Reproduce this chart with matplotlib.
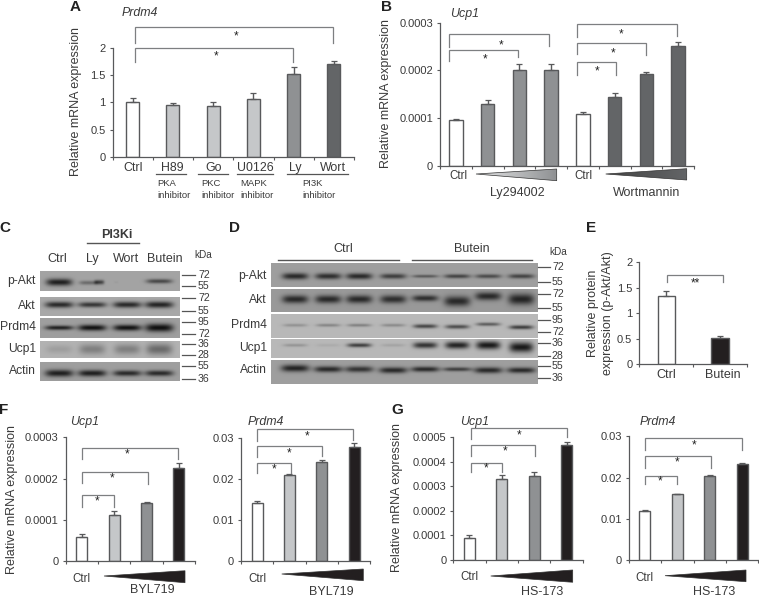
import numpy as np
import matplotlib
matplotlib.use('Agg')
import matplotlib.pyplot as plt
from matplotlib.patches import Polygon

plt.rcParams['font.family'] = ['Liberation Sans', 'DejaVu Sans']

W, H = 759, 597
TXT = '#3a3a3a'
EDGE = '#58595b'
WHITE, LIGHT, MID, DARK, BLACK = '#ffffff', '#c5c7c9', '#8f9193', '#636567', '#231f20'

# bar values
a_vals = [1.0, 0.96, 0.93, 1.07, 1.53, 1.71]
a_errs = [0.08, 0.03, 0.07, 0.11, 0.12, 0.05]
b_vals = [0.000096, 0.000129, 0.0002, 0.0002, 0.000108, 0.000145, 0.000193, 0.000252]
b_errs = [0.000002, 0.000008, 0.000014, 0.000014, 0.000004, 0.000008, 0.000003, 0.000008]
e_vals = [1.34, 0.52]
e_errs = [0.10, 0.04]
f1_vals = [0.00006, 0.000113, 0.000142, 0.000226]
f1_errs = [0.000005, 0.000008, 0.000002, 0.000011]
f2_vals = [0.0142, 0.021, 0.0241, 0.0277]
f2_errs = [0.0005, 0.0002, 0.0005, 0.0009]
g1_vals = [0.000088, 0.00033, 0.00034, 0.000467]
g1_errs = [0.000015, 0.000016, 0.000018, 0.000013]
g2_vals = [0.012, 0.016, 0.0203, 0.0234]
g2_errs = [0.00005, 0.00005, 0.0002, 0.0002]

# tick labels
ticks_a = ['0', '0.5', '1', '1.5', '2']
ticks_b = ['0', '0.0001', '0.0002', '0.0003']
ticks_g1 = ['0', '0.0001', '0.0002', '0.0003', '0.0004', '0.0005']
ticks_p = ['0', '0.01', '0.02', '0.03']

fig = plt.figure(figsize=(W / 100, H / 100), dpi=100)


def bar_panel(box, vals, errs, colors, ticks, ymax, width, fs=8):
    l, t, r, b = box
    ax = fig.add_axes([l / W, 1 - b / H, (r - l) / W, (b - t) / H])
    x = np.arange(len(vals))
    ax.bar(x, vals, width, color=colors, edgecolor=EDGE, linewidth=1.0,
           yerr=[np.zeros(len(errs)), errs],
           error_kw=dict(ecolor=EDGE, elinewidth=1.0, capsize=2.4, capthick=0.9))
    ax.set_xlim(-0.5, len(vals) - 0.5)
    ax.set_ylim(0, ymax)
    ax.set_yticks(np.linspace(0, ymax, len(ticks)))
    ax.set_yticklabels(ticks, fontsize=fs, color=TXT)
    ax.set_xticks(np.arange(len(vals) + 1) - 0.5)
    ax.set_xticklabels([])
    ax.tick_params(length=2.5, width=0.8, color=EDGE, pad=2.5)
    for s in ['top', 'right']:
        ax.spines[s].set_visible(False)
    for s in ['left', 'bottom']:
        ax.spines[s].set_color(EDGE)
        ax.spines[s].set_linewidth(0.9)
    return ax


bar_panel((112.5, 48, 354, 156.7), a_vals, a_errs, [WHITE, LIGHT, LIGHT, LIGHT, MID, DARK], ticks_a, 2, 0.32)
bar_panel((440, 22.7, 694, 165.7), b_vals, b_errs, [WHITE, MID, MID, MID, WHITE, DARK, DARK, DARK], ticks_b, 0.0003, 0.42)
bar_panel((639.3, 262.3, 747, 364.3), e_vals, e_errs, [WHITE, BLACK], ticks_a, 2, 0.32)
grad = [WHITE, LIGHT, MID, BLACK]
bar_panel((65.7, 437.3, 195, 561.3), f1_vals, f1_errs, grad, ticks_b, 0.0003, 0.34)
bar_panel((241, 437.7, 370.3, 561.3), f2_vals, f2_errs, grad, ticks_p, 0.03, 0.34)
bar_panel((453.3, 437, 582.7, 560), g1_vals, g1_errs, grad, ticks_g1, 0.0005, 0.34)
bar_panel((628.7, 436.3, 758.3, 560), g2_vals, g2_errs, grad, ticks_p, 0.03, 0.34)

# overlay in pixel coordinates for labels, brackets and blots
ov = fig.add_axes([0, 0, 1, 1], zorder=10)
ov.patch.set_alpha(0)
ov.axis('off')


def txt(x, y, s, fs=9, ha='center', **kw):
    ov.text(x, y, s, fontsize=fs, ha=ha, va='center', color=kw.pop('color', TXT), **kw)


def bracket(x0, x1, top, ldrop, rdrop, sx, sy, star='*'):
    ov.plot([x0, x0, x1, x1], [ldrop, top, top, rdrop], color='#7d7f81', lw=0.9, solid_joinstyle='miter')
    txt(sx, sy + 1.5, star, fs=8.5, color='#222222')


def wedge(tipx, tipy, rx, ry0, ry1, c0, c1):
    grad_img = np.linspace(0, 1, 64).reshape(1, -1)
    cm = matplotlib.colors.LinearSegmentedColormap.from_list('w', [c0, c1])
    im = ov.imshow(grad_img, extent=(tipx, rx, ry1, ry0), aspect='auto', cmap=cm, zorder=2)
    poly = Polygon([(tipx, tipy), (rx, ry0), (rx, ry1)], closed=True, transform=ov.transData,
                   fc='none', ec='#333333', lw=0.5, zorder=3)
    ov.add_patch(poly)
    im.set_clip_path(poly)


def blot(l, t, r, b, bg, bands):
    ys, xs = np.mgrid[t:b:0.5, l:r:0.5]
    img = np.full(xs.shape, float(bg))
    for cx, cy, hw, th, dark in bands:
        img -= dark * np.exp(-((xs - cx) / hw) ** 4 - ((ys - cy) / th) ** 2)
    ov.imshow(np.clip(img, 0, 1), extent=(l, r, b, t), cmap='gray', vmin=0, vmax=1,
              aspect='auto', interpolation='bilinear')


def row(lanes, y, hw, ths, darks, dys=None):
    dys = dys or [0] * len(lanes)
    return [(x, y + d, hw, th, k) for x, d, th, k in zip(lanes, dys, ths, darks)]


# panel C blots
lanes_c = [59, 92, 127, 159]
blot(40, 271, 180, 291, 0.64, [(59, 282, 13, 3.5, 0.52), (88, 282.5, 9, 2.0, 0.22), (99, 282, 5, 2.2, 0.38),
                               (116, 282, 2, 1, 0.03), (159, 281, 13, 2.2, 0.36)])
blot(40, 297, 180, 316, 0.66, row(lanes_c, 304.5, 14, [3, 2.6, 3, 3.2], [0.5, 0.45, 0.5, 0.52]))
blot(40, 318, 180, 338, 0.62, row(lanes_c, 327.5, 14, [2.2, 3, 3, 4], [0.5, 0.55, 0.55, 0.56]))
blot(40, 341, 180, 358, 0.70, row(lanes_c, 349, 13, [4, 5, 5, 5.5], [0.08, 0.2, 0.2, 0.28]))
blot(40, 362, 180, 381, 0.62, row(lanes_c, 373, 14, [3.5, 3.2, 2.8, 2.8], [0.5, 0.5, 0.46, 0.46]))

# panel D blots
lanes_d = [295, 328, 359, 393, 425, 457, 488, 521]
blot(271, 263, 538, 287, 0.62, row(lanes_d, 276, 13, [3.2, 3, 3, 2.5, 1.5, 2, 2, 2.2],
                                   [0.46, 0.44, 0.46, 0.38, 0.28, 0.36, 0.33, 0.36]))
blot(271, 289, 538, 312, 0.60, row(lanes_d, 299, 13, [4, 4, 4, 4, 3, 5, 4, 5.5],
                                   [0.44, 0.44, 0.44, 0.42, 0.42, 0.44, 0.44, 0.46],
                                   [0, 0, 0, 0, -1, 2, -3, 0]))
blot(271, 314, 538, 338, 0.72, row(lanes_d, 325, 12, [1.5, 1.5, 1.5, 1.5, 2, 2, 1.7, 2],
                                   [0.15, 0.2, 0.22, 0.18, 0.45, 0.42, 0.36, 0.48],
                                   [0, 0, 0, 0, 1, 1.5, -1, 2]))
blot(271, 339, 538, 358, 0.72, row(lanes_d, 345, 12, [1.5, 1.5, 2, 1.5, 3, 3.5, 4, 5],
                                   [0.14, 0.05, 0.48, 0.08, 0.52, 0.58, 0.62, 0.62],
                                   [0, 0, 0, 0, 0, 0, 0, 2]))
blot(271, 360, 538, 384, 0.62, row(lanes_d, 369, 14, [3.5, 3, 3, 3, 2.6, 2, 3, 2.8],
                                   [0.48, 0.46, 0.42, 0.46, 0.46, 0.38, 0.46, 0.46],
                                   [-1, 0, 0, 1, 0, 0, 1, 1]))

# kDa markers
kda_c = [(275.3, '72'), (286, '55'), (298, '72'), (310.7, '55'), (321.7, '95'),
         (334, '72'), (344, '36'), (355, '28'), (366, '55'), (379, '36')]
kda_d = [(266.7, '72'), (281.7, '55'), (294, '72'), (307.7, '55'), (320, '95'),
         (332, '72'), (343, '36'), (355.7, '28'), (366, '55'), (377.7, '36')]
for y, s in kda_c:
    ov.plot([182, 195], [y, y], color='#555555', lw=0.9)
    txt(198, y, s, fs=7.6, ha='left')
for y, s in kda_d:
    ov.plot([538, 550], [y, y], color='#555555', lw=0.9)
    txt(552, y, s, fs=7.6, ha='left')
txt(203, 255, 'kDa', fs=7.2)
txt(558, 251.7, 'kDa', fs=7.2)

# blot labels
for y, s in [(281, 'p-Akt'), (306, 'Akt'), (327, 'Prdm4'), (349, 'Ucp1'), (371, 'Actin')]:
    txt(36, y, s, fs=8.7, ha='right')
for y, s in [(276, 'p-Akt'), (300, 'Akt'), (325, 'Prdm4'), (348, 'Ucp1'), (370, 'Actin')]:
    txt(267, y, s, fs=8.7, ha='right')
for x, s in [(57, 'Ctrl'), (92, 'Ly'), (126, 'Wort'), (164.7, 'Butein')]:
    txt(x, 259, s, fs=9)
txt(116.7, 235, 'PI3Ki', fs=9, fontweight='bold')
ov.plot([87, 139], [242.7, 242.7], color='#555555', lw=1)
txt(343, 249, 'Ctrl', fs=9)
txt(472, 249, 'Butein', fs=9)
ov.plot([278, 399], [260, 260], color='#555555', lw=1)
ov.plot([412, 532], [260, 260], color='#555555', lw=1)

# panel letters
for x, y, s in [(75, 7, 'A'), (386, 7, 'B'), (5, 228, 'C'), (235, 228, 'D'),
                (591, 228, 'E'), (4, 410, 'F'), (397, 410, 'G')]:
    txt(x, y, s, fs=11, fontweight='bold', color='#222222')

# gene titles
for x, y, s in [(140, 13, 'Prdm4'), (465, 14, 'Ucp1'), (85, 422, 'Ucp1'),
                (266, 422, 'Prdm4'), (475, 422, 'Ucp1'), (657.7, 422, 'Prdm4')]:
    txt(x, y, s, fs=8.9, fontstyle='italic')

# y labels
for x, y in [(75.7, 102), (386, 94), (12, 499), (396.7, 498)]:
    txt(x, y, 'Relative mRNA expression', fs=9, rotation=90)
txt(592.7, 313, 'Relative protein', fs=9, rotation=90)
txt(608, 313, 'expression (p-Akt/Akt)', fs=9, rotation=90)

# panel A x labels
for x, s in [(132.7, 'Ctrl'), (172, 'H89'), (213.3, 'Go'), (255, 'U0126'), (295, 'Ly'), (332.7, 'Wort')]:
    txt(x, 167.7, s, fs=8.9)
for x0, x1 in [(155.7, 186), (198, 228), (237, 273), (286.7, 347.7)]:
    ov.plot([x0, x1], [174.3, 174.3], color='#555555', lw=0.9)
for x, s in [(157.7, 'PKA'), (201, 'PKC'), (240.7, 'MAPK'), (302.7, 'PI3K')]:
    txt(x, 184, s, fs=6.8, ha='left')
    txt(x, 195.3, 'inhibitor', fs=6.8, ha='left')

# treatment labels
for x, y, s in [(458, 176, 'Ctrl'), (583.7, 176, 'Ctrl'), (81.7, 579, 'Ctrl'), (257.3, 579, 'Ctrl'),
                (469.3, 577, 'Ctrl'), (644.3, 577.7, 'Ctrl')]:
    txt(x, y, s, fs=8.3)
for x, y, s in [(517.3, 192.7, 'Ly294002'), (646.7, 192.7, 'Wortmannin'), (152.7, 590, 'BYL719'),
                (331, 591.7, 'BYL719'), (542.3, 592.3, 'HS-173'), (714.3, 591.7, 'HS-173')]:
    txt(x, y, s, fs=9)
txt(666.7, 375.5, 'Ctrl', fs=9)
txt(722.5, 375.5, 'Butein', fs=9)

# wedges
wedge(476, 174, 556.7, 169, 180.7, '#e4e5e6', MID)
wedge(605.7, 174, 686.7, 168.7, 180, '#444444', DARK)
wedge(104, 576, 185, 570.7, 582.7, BLACK, BLACK)
wedge(281.7, 574, 363.3, 569, 580.7, BLACK, BLACK)
wedge(490.7, 576, 572.7, 570, 582.3, BLACK, BLACK)
wedge(665, 575.7, 746, 570, 581.7, BLACK, BLACK)

# brackets: x0, x1, top, left drop, right drop, star x, star y
bracket(135, 292.7, 48, 61.7, 61.7, 215.7, 55)
bracket(135, 333.3, 27.3, 42.7, 42.7, 235.7, 35)
bracket(449.3, 518.3, 50, 60.7, 57.3, 484.7, 57.7)
bracket(449.3, 549, 34.3, 46.7, 45.7, 501.3, 44.3)
bracket(577.3, 615.7, 62.3, 75, 75, 597, 70)
bracket(577.3, 646, 42.7, 54.3, 55, 612.7, 52)
bracket(577.3, 677, 24.3, 36.7, 36, 621.3, 32.7)
bracket(666.7, 723, 275, 281.7, 281.7, 695.7, 282, '**')
bracket(81.7, 114.3, 495.3, 506.7, 506.7, 97, 500)
bracket(81.7, 147.7, 472.3, 483.3, 484, 111.7, 477.3)
bracket(81.7, 178.3, 447.7, 459, 459, 126.7, 452.7)
bracket(257, 291, 463.3, 472.7, 472.7, 274, 468.3)
bracket(257, 321.7, 446, 457.3, 455.7, 289.3, 451.7)
bracket(257, 353.3, 429.3, 440.7, 440, 307.3, 435)
bracket(470.7, 501.7, 462.7, 471.7, 471.7, 486.3, 466.7)
bracket(470.7, 535, 445, 456, 456, 505, 450)
bracket(470.7, 567.3, 428.3, 439.3, 437.3, 519, 433.7)
bracket(645, 676.7, 476, 484.3, 484.3, 660.3, 480.3)
bracket(645, 711, 456, 467.7, 467.7, 676.7, 461)
bracket(645, 741.7, 438.3, 450, 450, 693.7, 444.3)

ov.set_xlim(0, W)
ov.set_ylim(H, 0)

fig.savefig('out.png', dpi=100)
